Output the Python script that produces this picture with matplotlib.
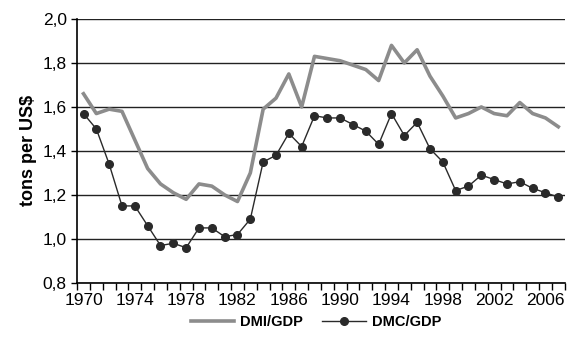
import matplotlib
matplotlib.use('Agg')
import matplotlib.pyplot as plt
from matplotlib.ticker import FuncFormatter

plt.rcParams['font.family'] = ['Liberation Sans', 'DejaVu Sans']

years = list(range(1970, 2008))
dmi_gdp = [1.66, 1.57, 1.59, 1.58, 1.45, 1.32, 1.25, 1.21, 1.18, 1.25,
           1.24, 1.20, 1.17, 1.30, 1.59, 1.64, 1.75, 1.60, 1.83, 1.82,
           1.81, 1.79, 1.77, 1.72, 1.88, 1.80, 1.86, 1.74, 1.65, 1.55,
           1.57, 1.60, 1.57, 1.56, 1.62, 1.57, 1.55, 1.51]
dmc_gdp = [1.57, 1.50, 1.34, 1.15, 1.15, 1.06, 0.97, 0.98, 0.96, 1.05,
           1.05, 1.01, 1.02, 1.09, 1.35, 1.38, 1.48, 1.42, 1.56, 1.55,
           1.55, 1.52, 1.49, 1.43, 1.57, 1.47, 1.53, 1.41, 1.35, 1.22,
           1.24, 1.29, 1.27, 1.25, 1.26, 1.23, 1.21, 1.19]

fig = plt.figure(figsize=(5.71, 3.45), dpi=100)
ax = fig.add_axes([0.135, 0.18, 0.854, 0.765])

ax.plot(years, dmi_gdp, color='#8c8c8c', lw=2.6, label='DMI/GDP', zorder=3)
ax.plot(years, dmc_gdp, color='#2a2a2a', lw=1.0, marker='o', ms=5.5,
        label='DMC/GDP', zorder=4)

ax.set_xlim(years[0] - 0.5, years[-1] + 0.5)
ax.set_ylim(0.8, 2.0)
ax.set_yticks([0.8, 1.0, 1.2, 1.4, 1.6, 1.8, 2.0])
ax.yaxis.set_major_formatter(FuncFormatter(lambda v, p: f'{v:.1f}'.replace('.', ',')))
ax.set_xticks(years[::4])
ax.set_xticks([y - 0.5 for y in years] + [years[-1] + 0.5], minor=True)
ax.tick_params(axis='x', which='major', length=0, labelsize=12.5, pad=7)
ax.tick_params(axis='x', which='minor', length=5, width=1, direction='out')
ax.tick_params(axis='y', length=4, width=1, labelsize=12.5)
ax.grid(axis='y', color='#222222', lw=1)
for s in ['top', 'right']:
    ax.spines[s].set_visible(False)
for s in ['left', 'bottom']:
    ax.spines[s].set_linewidth(1.2)
ax.set_ylabel('tons per US$', fontsize=13, fontweight='bold')

fig.legend(loc='center', bbox_to_anchor=(0.553, 0.067), ncol=2, frameon=False,
           prop={'weight': 'bold', 'size': 10.5}, handlelength=3.0,
           handletextpad=0.4, columnspacing=1.3)

fig.savefig('out.png', dpi=100)
